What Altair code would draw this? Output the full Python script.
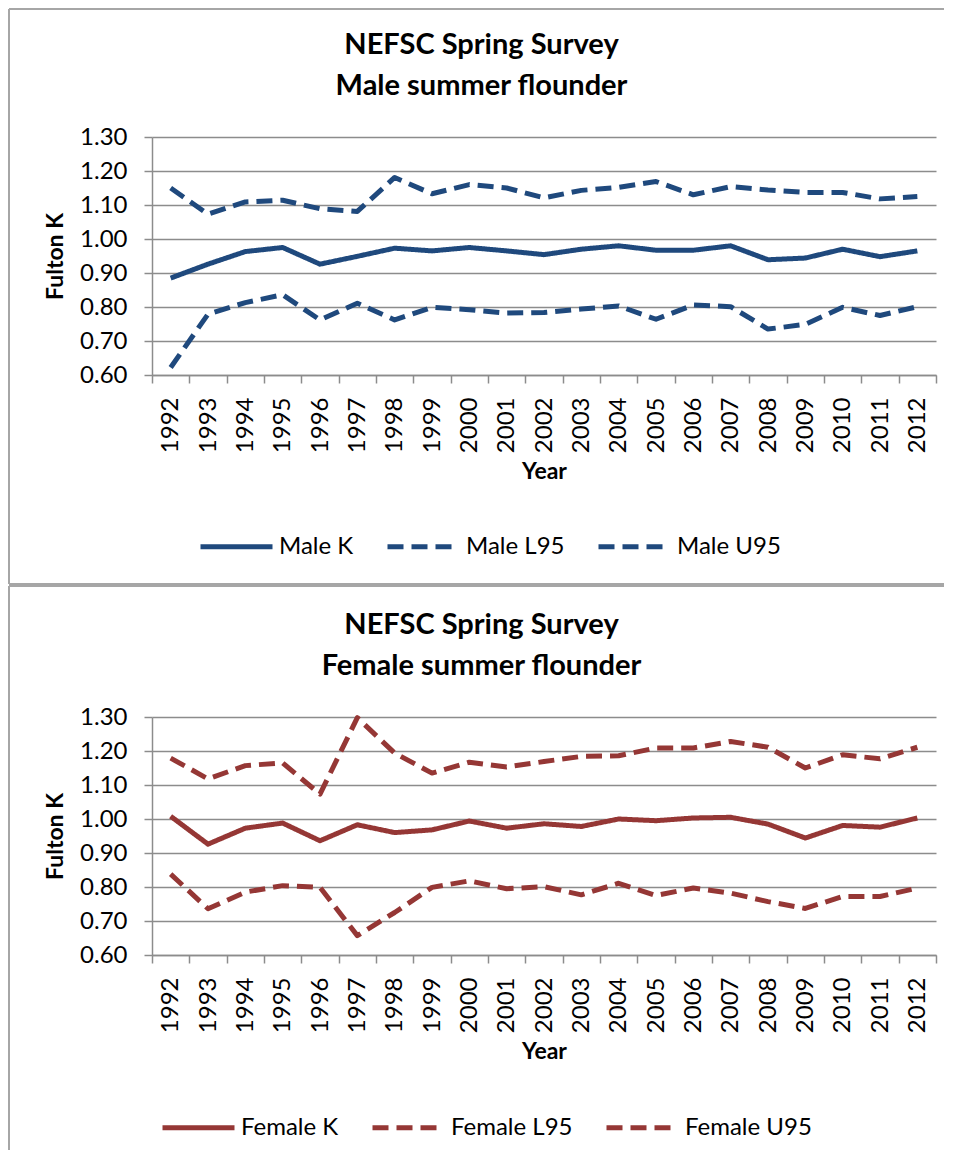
import altair as alt
import pandas as pd

years = [str(y) for y in range(1992, 2013)]

male_k = [0.885, 0.926, 0.963, 0.975, 0.926, 0.949, 0.973, 0.965, 0.975, 0.965, 0.954,
          0.970, 0.980, 0.967, 0.967, 0.980, 0.939, 0.944, 0.970, 0.948, 0.965]
male_l95 = [0.622, 0.779, 0.813, 0.836, 0.762, 0.811, 0.762, 0.799, 0.792, 0.782, 0.784,
            0.794, 0.803, 0.764, 0.806, 0.801, 0.735, 0.749, 0.799, 0.775, 0.801]
male_u95 = [1.150, 1.073, 1.109, 1.114, 1.089, 1.081, 1.181, 1.133, 1.160, 1.150, 1.121,
            1.143, 1.152, 1.169, 1.130, 1.154, 1.144, 1.137, 1.137, 1.118, 1.125]

female_k = [1.008, 0.926, 0.973, 0.988, 0.936, 0.983, 0.960, 0.968, 0.994, 0.973, 0.986,
            0.978, 1.000, 0.995, 1.003, 1.005, 0.985, 0.944, 0.981, 0.976, 1.003]
female_l95 = [0.838, 0.736, 0.785, 0.804, 0.799, 0.657, 0.725, 0.799, 0.818, 0.795, 0.801,
              0.777, 0.811, 0.775, 0.797, 0.782, 0.757, 0.737, 0.772, 0.772, 0.797]
female_u95 = [1.179, 1.118, 1.157, 1.165, 1.073, 1.298, 1.194, 1.135, 1.167, 1.153, 1.169,
              1.184, 1.186, 1.209, 1.209, 1.228, 1.211, 1.150, 1.189, 1.177, 1.211]

y_ticks = [0.6, 0.7, 0.8, 0.9, 1.0, 1.1, 1.2, 1.3]

BLUE = "#1F497D"
RED = "#953735"
GRAY = "#8C8C8C"
FONT = "Lato"
W, H = 784, 238


def panel(sex, k, l95, u95, color, subtitle, frame_top, frame_bottom, legend_x, legend_y,
          bottom_line, title_offset):
    names = [f"{sex} K", f"{sex} L95", f"{sex} U95"]
    rows = []
    for name, vals in zip(names, [k, l95, u95]):
        for yr, v in zip(years, vals):
            rows.append({"Year": yr, "K": v, "Series": name})
    df = pd.DataFrame(rows)

    lines = alt.Chart(df).mark_line(
        color=color, strokeWidth=5, strokeCap="butt", strokeJoin="round"
    ).encode(
        x=alt.X(
            "Year:O",
            bandPosition=0.5,
            sort=years,
            scale=alt.Scale(type="band", paddingInner=0, paddingOuter=0),
            axis=alt.Axis(
                title="Year", labelAngle=270, tickBand="extent", grid=False,
                labelPadding=14, tickSize=8, titlePadding=8,
            ),
        ),
        y=alt.Y(
            "K:Q",
            scale=alt.Scale(domain=[0.6, 1.3], nice=False, zero=False),
            axis=alt.Axis(
                title="Fulton K", values=y_ticks, format=".2f", grid=True,
                labelPadding=17, tickSize=8, titlePadding=12,
            ),
        ),
        strokeDash=alt.StrokeDash(
            "Series:N",
            scale=alt.Scale(domain=names, range=[[1, 0], [16, 8], [16, 8]]),
            legend=alt.Legend(
                title=None, orient="none", legendX=legend_x, legendY=legend_y,
                direction="horizontal", symbolType="stroke", symbolSize=5184,
                symbolStrokeWidth=5, symbolStrokeColor=color, labelOffset=4,
                columnPadding=23, labelFont=FONT, labelFontSize=24,
                labelColor="black", labelLimit=300,
            ),
        ),
    )

    frame_df = pd.DataFrame({"a": [0]})
    left = alt.Chart(frame_df).mark_rule(color="#A6A6A6", strokeWidth=2).encode(
        x=alt.value(-143), y=alt.value(frame_top), y2=alt.value(frame_bottom)
    )
    top = alt.Chart(frame_df).mark_rule(color="#A6A6A6", strokeWidth=2).encode(
        x=alt.value(-143), x2=alt.value(792), y=alt.value(frame_top)
    )
    layers = [lines, left, top]
    if bottom_line:
        bottom = alt.Chart(frame_df).mark_rule(color="#A6A6A6", strokeWidth=2).encode(
            x=alt.value(-143), x2=alt.value(792), y=alt.value(frame_bottom)
        )
        layers.append(bottom)

    return alt.layer(*layers).properties(
        width=W,
        height=H,
        title=alt.TitleParams(
            text=["NEFSC Spring Survey", subtitle],
            font=FONT, fontSize=29, fontWeight="bold", color="black",
            anchor="middle", frame="bounds", lineHeight=41, offset=title_offset,
            dx=5,
        ),
    )


top_panel = panel("Male", male_k, male_l95, male_u95, BLUE, "Male summer flounder",
                  -128, 447, 46, 371, True, -93)
bottom_panel = panel("Female", female_k, female_l95, female_u95, RED,
                     "Female summer flounder", -131, 433, 8, 372, False, -96)

chart = alt.vconcat(top_panel, bottom_panel, spacing=0).resolve_scale(
    strokeDash="independent", x="independent", y="independent"
).resolve_legend(strokeDash="independent").properties(
    padding=0
).configure_view(
    strokeWidth=0
).configure_axis(
    domainColor=GRAY, domainWidth=1.5, gridColor=GRAY, gridWidth=1.5,
    tickColor=GRAY, tickWidth=1.5, labelFont=FONT, labelFontSize=24,
    labelColor="black", titleFont=FONT, titleFontSize=23, titleFontWeight="bold",
    titleColor="black",
)

chart.save("out.html", embed_options={"renderer": "svg", "actions": False})
